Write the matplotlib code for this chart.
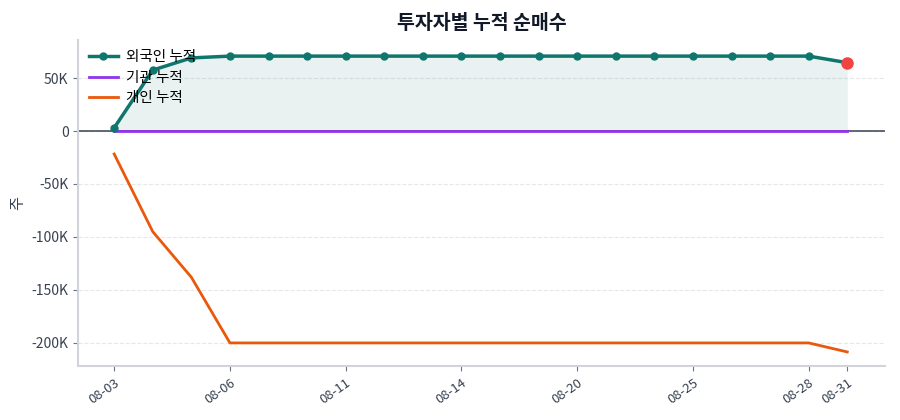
import matplotlib
matplotlib.use("Agg")
import matplotlib.pyplot as plt
from matplotlib.ticker import FuncFormatter

plt.rcParams['font.family'] = ['Noto Sans CJK KR', 'DejaVu Sans']

dates = ['08-03', '08-04', '08-05', '08-06', '08-07', '08-08', '08-11', '08-12',
         '08-13', '08-14', '08-18', '08-19', '08-20', '08-21', '08-22', '08-25',
         '08-26', '08-27', '08-28', '08-31']
foreign = [3000, 57500, 69000, 70700, 70700, 70700, 70700, 70700, 70700, 70700,
           70700, 70700, 70700, 70700, 70700, 70700, 70700, 70700, 70700, 64500]
institution = [0] * 20
individual = [-21700, -95000, -138000, -200000, -200000, -200000, -200000, -200000,
              -200000, -200000, -200000, -200000, -200000, -200000, -200000, -200000,
              -200000, -200000, -200000, -208500]
tick_idx = [0, 3, 6, 9, 12, 15, 18, 19]

x = list(range(len(dates)))

fig, ax = plt.subplots(figsize=(9, 4.2), dpi=100)
fig.subplots_adjust(left=0.087, right=0.983, top=0.905, bottom=0.128)

ax.axhline(0, color='#374151', lw=1.1, zorder=2)
ax.fill_between(x, foreign, 0, color='#0f766e', alpha=0.09, lw=0, zorder=1)
ax.plot(x, foreign, color='#0f766e', lw=2.5, marker='o', ms=5, label='외국인 누적', zorder=4)
ax.plot(x, institution, color='#9333ea', lw=2, label='기관 누적', zorder=3)
ax.plot(x, individual, color='#ea580c', lw=2, label='개인 누적', zorder=3)
ax.plot(x[-1], foreign[-1], 'o', color='#ef4444', ms=8, zorder=5)

ax.set_xlim(-0.93, 19.97)
ax.set_ylim(-222000, 86000)
ax.set_xticks(tick_idx)
ax.set_xticklabels([dates[i] for i in tick_idx], rotation=35, ha='right',
                   rotation_mode='anchor', fontsize=9.5, color='#374151')
ax.yaxis.set_major_formatter(FuncFormatter(lambda v, p: '0' if v == 0 else f'{int(v/1000)}K'))
ax.tick_params(axis='y', labelsize=10, labelcolor='#374151', color='#6b7280')
ax.tick_params(axis='x', color='#6b7280')
ax.grid(axis='y', color='#e5e7eb', ls='--', lw=0.8)
ax.set_axisbelow(True)
for s in ['top', 'right']:
    ax.spines[s].set_visible(False)
for s in ['left', 'bottom']:
    ax.spines[s].set_color('#d1d5db')
    ax.spines[s].set_linewidth(1.5)

ax.set_ylabel('주', fontsize=11, color='#374151')
ax.set_title('투자자별 누적 순매수', fontsize=14, fontweight='bold', color='#111827', pad=8)
ax.legend(loc='upper left', frameon=False, fontsize=10.5, handlelength=2.0,
          handletextpad=0.6, borderaxespad=0.3, labelspacing=0.45)

fig.savefig('out.png')
